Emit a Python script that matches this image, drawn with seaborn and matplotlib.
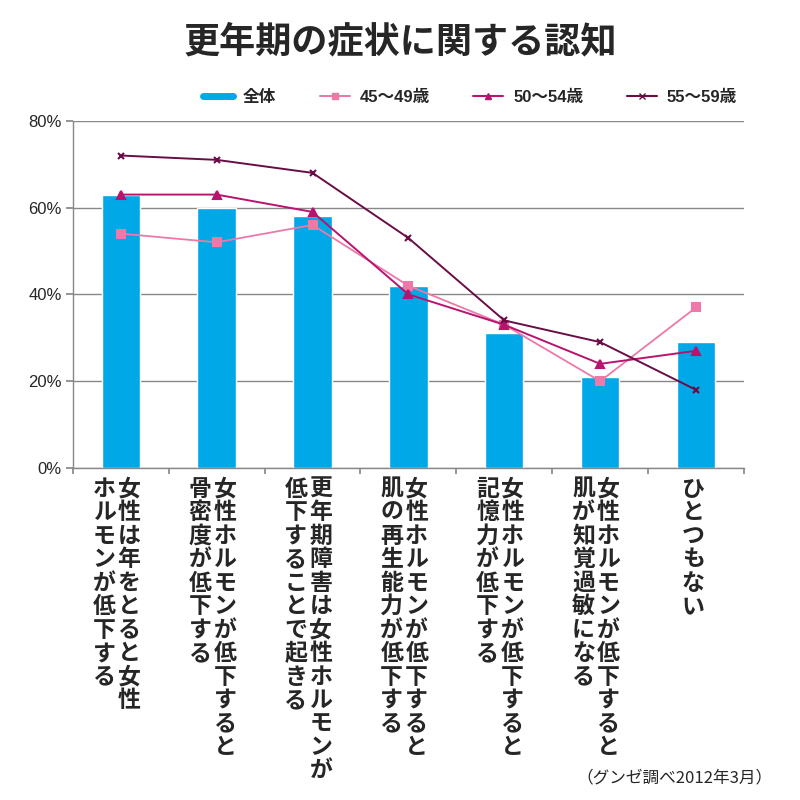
import matplotlib
matplotlib.use("Agg")
import matplotlib.pyplot as plt
import seaborn as sns
import numpy as np
from matplotlib.lines import Line2D

# Data
categories = [
    ("女性は年をとると女性", "ホルモンが低下する"),
    ("女性ホルモンが低下すると", "骨密度が低下する"),
    ("更年期障害は女性ホルモンが", "低下することで起きる"),
    ("女性ホルモンが低下すると", "肌の再生能力が低下する"),
    ("女性ホルモンが低下すると", "記憶力が低下する"),
    ("女性ホルモンが低下すると", "肌が知覚過敏になる"),
    ("ひとつもない",),
]
total = [63, 60, 58, 42, 31, 21, 29]
age_45_49 = [54, 52, 56, 42, 33, 20, 37]
age_50_54 = [63, 63, 59, 40, 33, 24, 27]
age_55_59 = [72, 71, 68, 53, 34, 29, 18]
y_ticks = [0, 20, 40, 60, 80]

sns.set_theme(style="white")
LAT = ["Liberation Sans", "Noto Sans CJK JP", "DejaVu Sans"]
CJK = ["Noto Sans CJK JP", "DejaVu Sans"]
plt.rcParams["font.family"] = LAT

fig = plt.figure(figsize=(8, 8), dpi=100)
ax = fig.add_axes([0.091, 0.415, 0.839, 0.434])

x = np.arange(len(total))
sns.barplot(x=x, y=total, color="#00A8E8", saturation=1, width=0.4, ax=ax, zorder=2)

lines = [
    (age_45_49, "45〜49歳", "#EE78A8", "s", 6, 1.3),
    (age_50_54, "50〜54歳", "#B8146F", "^", 6, 1.4),
    (age_55_59, "55〜59歳", "#6A0D45", "x", 5, 1.4),
]
handles = [Line2D([], [], color="#00A8E8", lw=5, label="全体")]
for vals, lab, col, mk, ms, lw in lines:
    ax.plot(x, vals, color=col, marker=mk, ms=ms, lw=lw, mew=1.5, zorder=3)
    handles.append(Line2D([], [], color=col, marker=mk, ms=4, lw=1.5, label=lab))

ax.set_ylim(0, 80)
ax.set_xlim(-0.5, len(total) - 0.5)
ax.set_yticks(y_ticks)
ax.set_yticklabels([f"{v}%" for v in y_ticks], fontsize=12, family=LAT)
ax.yaxis.grid(True, color="#888888", lw=1, zorder=0)
ax.set_axisbelow(True)
for s in ["top", "right"]:
    ax.spines[s].set_visible(False)
for s in ["left", "bottom"]:
    ax.spines[s].set_color("#888888")
    ax.spines[s].set_linewidth(1)
ax.tick_params(axis="y", left=True, length=5, color="#888888", pad=3)
ax.set_xticks(np.arange(len(total) + 1) - 0.5)
ax.set_xticklabels([])
ax.tick_params(axis="x", bottom=True, length=4, color="#888888")

# vertical Japanese category labels (first line on the right)
pitch = 16.9
for i, cols in enumerate(categories):
    offsets = [6, -12] if len(cols) == 2 else [-2]
    for col_text, dx in zip(cols, offsets):
        for j, ch in enumerate(col_text):
            ax.annotate(ch, xy=(i, 0), xycoords=("data", "axes fraction"),
                        xytext=(dx, -7 - j * pitch), textcoords="offset points",
                        ha="center", va="top", fontsize=16.5, fontweight="bold",
                        family=CJK, annotation_clip=False)

fig.text(0.5, 0.947, "更年期の症状に関する認知", ha="center", va="center",
         fontsize=26, fontweight="bold", family=CJK)

fig.legend(handles=handles, loc="center", bbox_to_anchor=(0.5875, 0.878), ncol=4,
           frameon=False, fontsize=12, handlelength=1.8, columnspacing=2.6,
           handletextpad=0.6, prop={"family": LAT, "size": 12, "weight": "bold"})

fig.text(0.965, 0.027, "（グンゼ調べ2012年3月）", ha="right", va="center",
         fontsize=12, family=CJK)

fig.savefig("out.png", dpi=100, facecolor="white")
